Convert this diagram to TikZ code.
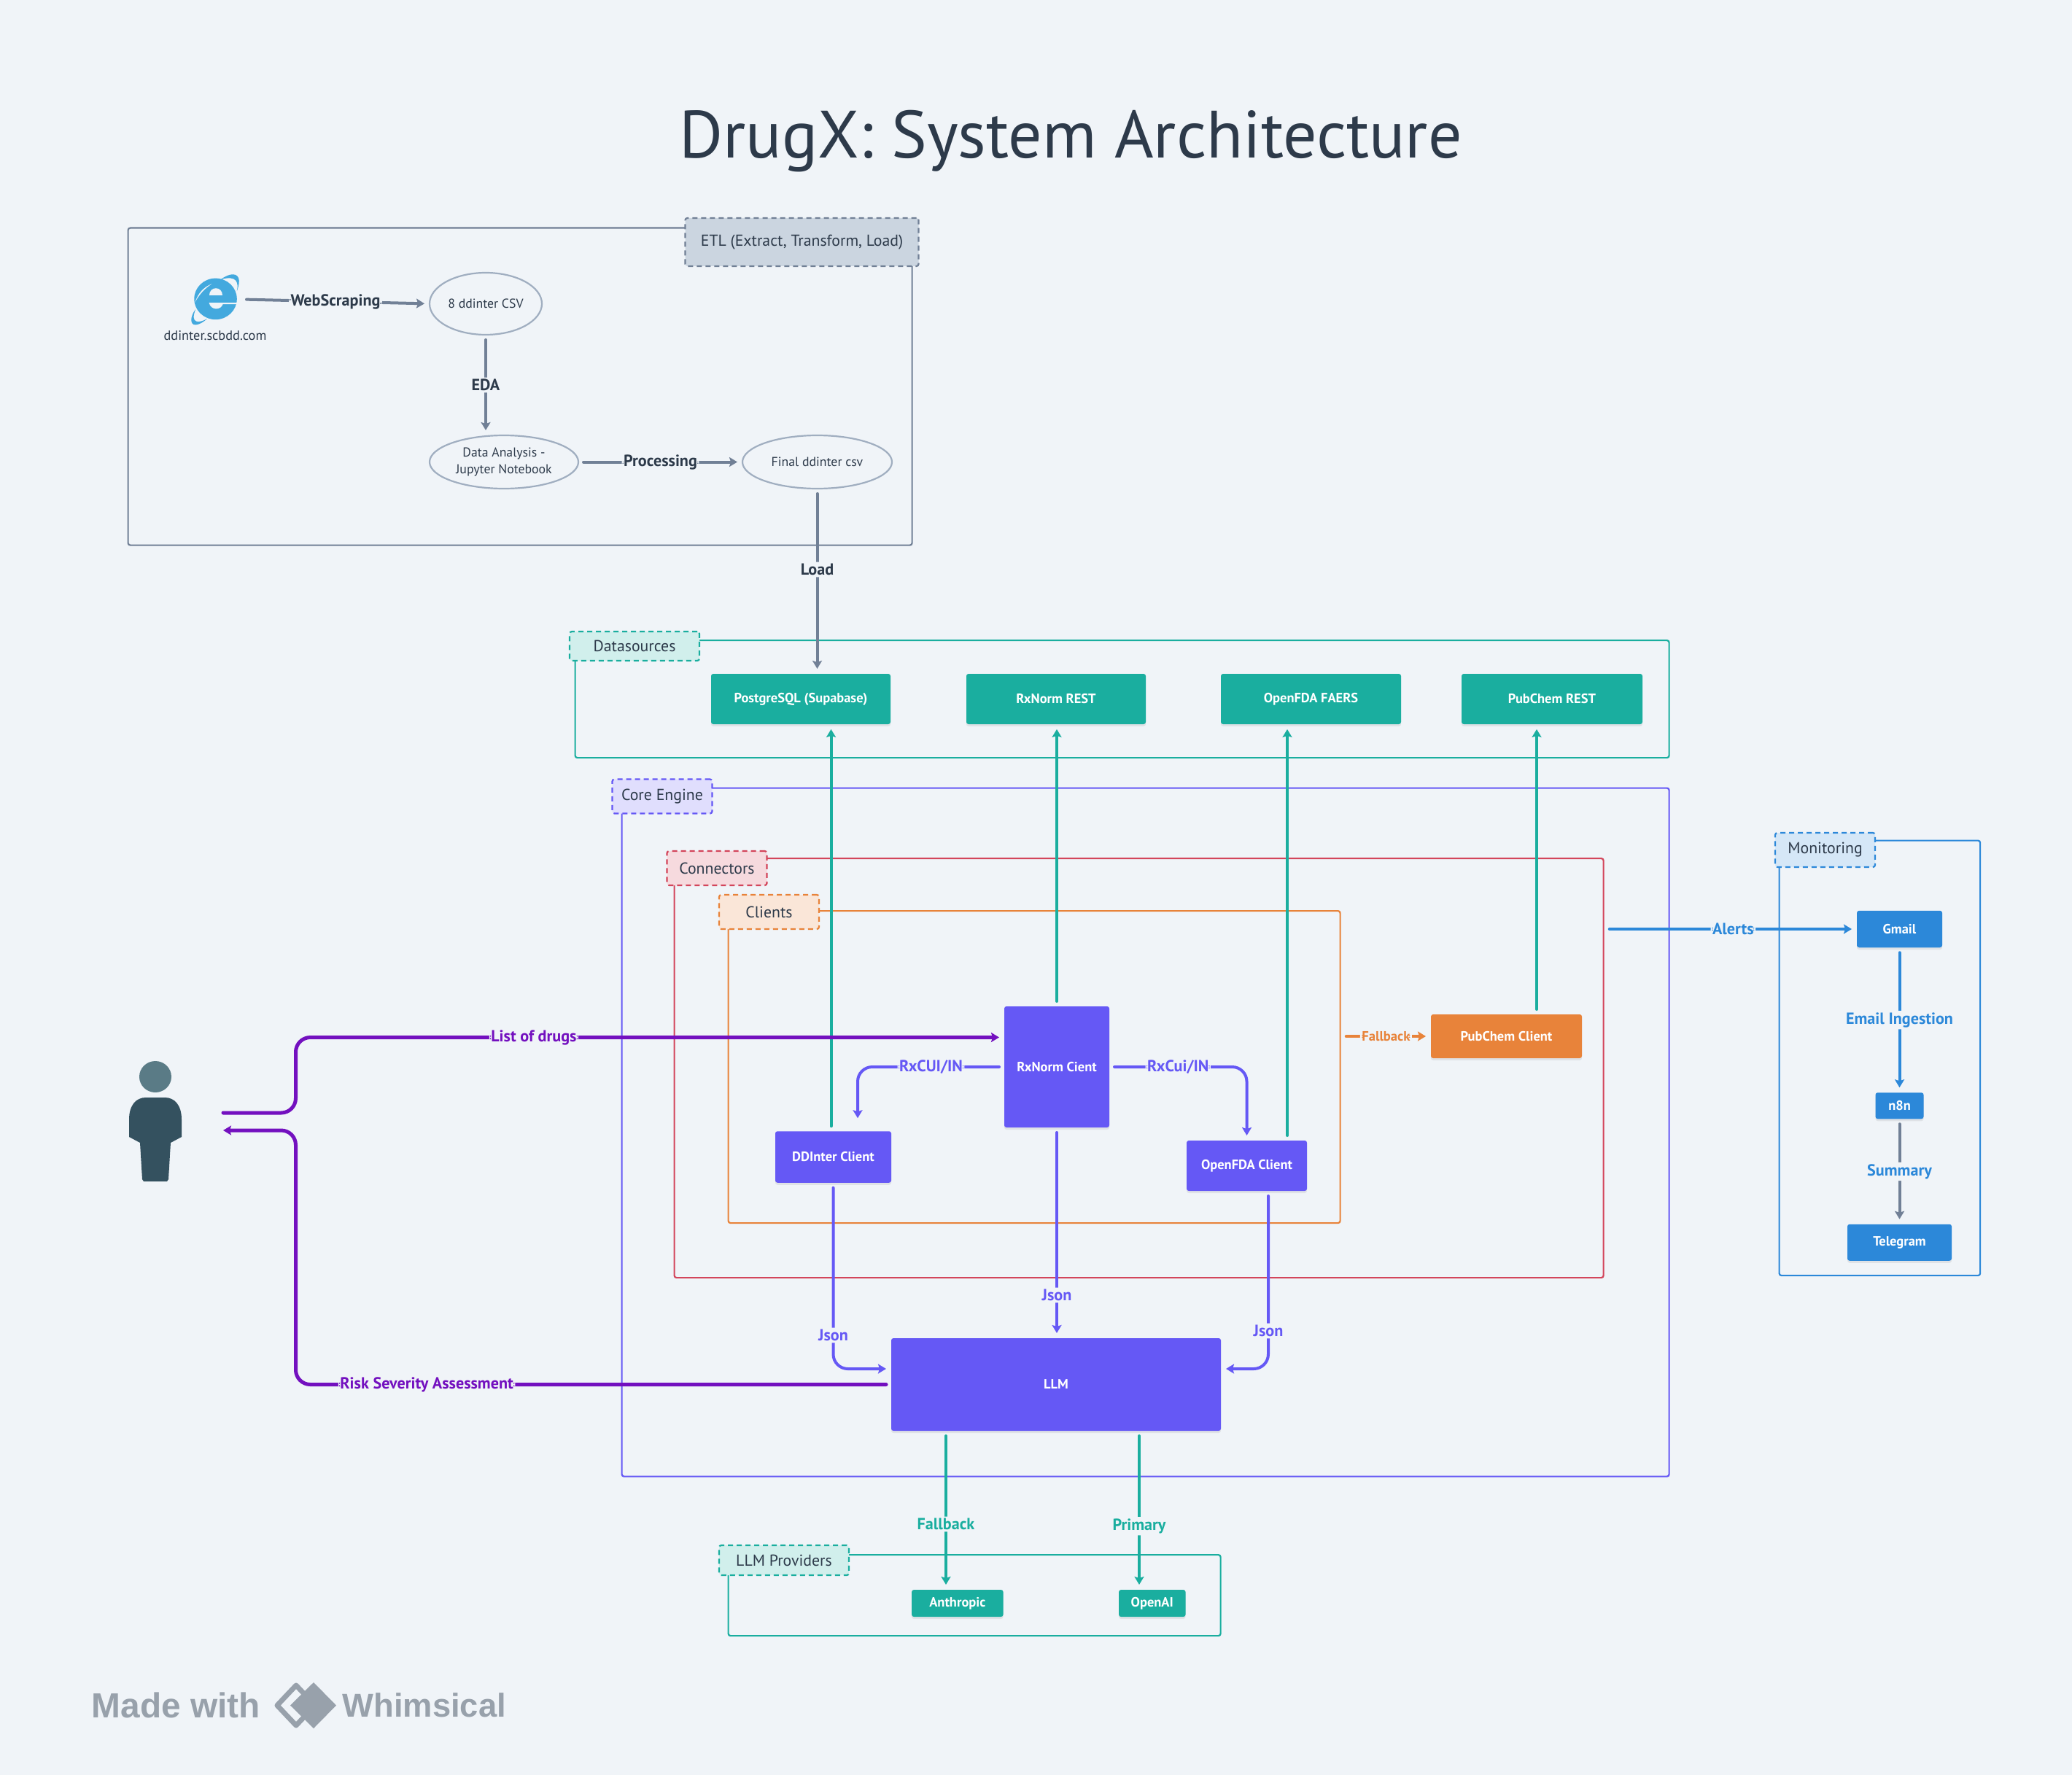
\documentclass[tikz,border=0pt]{standalone}
\usepackage{fontspec}
\usepackage{tikz}
\usetikzlibrary{shapes.geometric, arrows.meta, positioning, shadows}
\setmainfont{PT Sans}
\newfontfamily\brandfont{Liberation Sans}
\definecolor{pagebg}{RGB}{240, 244, 248}
\definecolor{inkdark}{RGB}{45, 58, 74}
\definecolor{etlslate}{RGB}{113, 128, 150}
\definecolor{etlfill}{RGB}{203, 213, 224}
\definecolor{ovalgray}{RGB}{160, 174, 192}
\definecolor{flowteal}{RGB}{26, 174, 159}
\definecolor{tealfill}{RGB}{209, 239, 236}
\definecolor{corepurple}{RGB}{101, 88, 245}
\definecolor{corefill}{RGB}{224, 222, 253}
\definecolor{connred}{RGB}{211, 69, 91}
\definecolor{redfill}{RGB}{246, 218, 222}
\definecolor{clientorange}{RGB}{232, 131, 58}
\definecolor{orangefill}{RGB}{250, 230, 216}
\definecolor{monblue}{RGB}{44, 136, 217}
\definecolor{bluefill}{RGB}{213, 231, 247}
\definecolor{userviolet}{RGB}{115, 16, 191}
\definecolor{brandgray}{RGB}{152, 161, 171}
\definecolor{ieblue}{RGB}{67, 169, 222}
\definecolor{headtone}{RGB}{90, 123, 134}
\definecolor{bodytone}{RGB}{52, 81, 95}
\tikzset{
  >=Stealth,
  basearrow/.style={-{Stealth[length=1.1mm, width=1.3mm, inset=0.2mm]}, line width=0.04cm, line cap=round, rounded corners=0.2cm, shorten <=0.07cm, shorten >=0.07cm},
  flowarrow_slate/.style={basearrow, etlslate},
  flowarrow_teal/.style={basearrow, flowteal},
  flowarrow_core/.style={basearrow, corepurple},
  flowarrow_orange/.style={basearrow, clientorange},
  flowarrow_blue/.style={basearrow, monblue},
  flowarrow_user/.style={basearrow, userviolet, line width=0.05cm},
  linelabel/.style={fill=pagebg, inner sep=0.7pt, font=\fontsize{6.3}{7}\selectfont\bfseries},
  groupbox/.style={draw=#1, line width=0.022cm, rounded corners=0.03cm, anchor=north west, inner sep=0pt},
  grouptag/.style n args={2}{draw=#1, fill=#2, line width=0.022cm, dashed, dash pattern=on 0.07cm off 0.05cm, rounded corners=0.03cm, text=inkdark, inner sep=0pt, outer sep=0pt, font=\fontsize{6.2}{7}\selectfont},
  filebox/.style={draw=none, fill=#1, rounded corners=0.03cm, text=white, inner sep=0pt, outer sep=0pt, font=\fontsize{5.25}{6}\selectfont\bfseries, drop shadow={shadow xshift=0cm, shadow yshift=-0.03cm, fill=black, opacity=0.07}},
  ovalnode/.style={ellipse, draw=ovalgray, line width=0.022cm, inner sep=0pt, outer sep=0pt, text=inkdark, align=center, font=\fontsize{5.05}{6.6}\selectfont}
}
\begin{document}
\begin{tikzpicture}
    \fill[pagebg] (0,0) rectangle (28.41,-24.34);
    \useasboundingbox (0,0) rectangle (28.41,-24.34);
    \node (drawingtitle) [text=inkdark, font=\fontsize{26.1}{30}\selectfont] at (14.68,-1.94) {DrugX: System Architecture};

    % group frames
    \node (etlbox) [groupbox=etlslate, minimum width=10.75cm, minimum height=4.35cm] at (1.745,-3.115) {};
    \node (sourcebox) [groupbox=flowteal, minimum width=15.00cm, minimum height=1.61cm] at (7.875,-8.77) {};
    \node (corebox) [groupbox=corepurple, minimum width=14.36cm, minimum height=9.44cm] at (8.515,-10.795) {};
    \node (connectbox) [groupbox=connred, minimum width=12.74cm, minimum height=5.75cm] at (9.235,-11.76) {};
    \node (clientbox) [groupbox=clientorange, minimum width=8.39cm, minimum height=4.28cm] at (9.975,-12.48) {};
    \node (providerbox) [groupbox=flowteal, minimum width=6.75cm, minimum height=1.11cm] at (9.975,-21.31) {};
    \node (monitorbox) [groupbox=monblue, minimum width=2.755cm, minimum height=5.965cm] at (24.385,-11.515) {};
    \node (etltag) [grouptag={etlslate}{etlfill}, minimum width=3.20cm, minimum height=0.66cm] at (10.995,-3.32) {ETL (Extract, Transform, Load)};
    \node (sourcetag) [grouptag={flowteal}{tealfill}, minimum width=1.78cm, minimum height=0.40cm] at (8.70,-8.86) {Datasources};
    \node (coretag) [grouptag={corepurple}{corefill}, minimum width=1.37cm, minimum height=0.47cm] at (9.08,-10.92) {Core Engine};
    \node (connecttag) [grouptag={connred}{redfill}, minimum width=1.37cm, minimum height=0.47cm] at (9.83,-11.905) {Connectors};
    \node (clienttag) [grouptag={clientorange}{orangefill}, minimum width=1.37cm, minimum height=0.47cm] at (10.545,-12.505) {Clients};
    \node (providertag) [grouptag={flowteal}{tealfill}, minimum width=1.78cm, minimum height=0.41cm] at (10.75,-21.395) {LLM Providers};
    \node (monitortag) [grouptag={monblue}{bluefill}, minimum width=1.37cm, minimum height=0.47cm] at (25.025,-11.655) {Monitoring};

    % ETL nodes
    \node (iesite) [minimum width=0.69cm, minimum height=0.70cm, inner sep=0pt, outer sep=0pt] at (2.965,-4.105) {};
    \begin{scope}[shift={(2.40,-3.60)}, x=0.0033333cm, y=-0.0033333cm]
        \fill[ieblue] (167,150) ellipse [x radius=88, y radius=85];
        \fill[pagebg] (140,135) .. controls (140,95) and (195,95) .. (195,135) -- cycle;
        \fill[pagebg] (140,166) .. controls (148,198) and (188,198) .. (197,172) -- (262,172) -- (262,166) -- cycle;
        \fill[pagebg] (152,88) .. controls (120,100) and (95,125) .. (82,165) .. controls (100,130) and (125,105) .. (152,88) -- cycle;
        \fill[ieblue] (188,70) .. controls (225,42) and (262,40) .. (264,75) .. controls (264,90) and (260,105) .. (255,118) .. controls (262,85) and (258,50) .. (188,70) -- cycle;
        \fill[ieblue] (85,192) .. controls (60,225) and (62,258) .. (85,257) .. controls (100,256) and (118,245) .. (132,232) .. controls (100,250) and (60,255) .. (85,192) -- cycle;
    \end{scope}
    \node (iename) [text=inkdark, font=\fontsize{5.2}{6}\selectfont] at (2.95,-4.60) {ddinter.scbdd.com};
    \node (rawcsv) [ovalnode, minimum width=1.54cm, minimum height=0.85cm] at (6.66,-4.165) {8 ddinter CSV};
    \node (edanode) [ovalnode, minimum width=2.04cm, minimum height=0.73cm] at (6.91,-6.335) {Data Analysis -\\Jupyter Notebook};
    \node (finalcsv) [ovalnode, minimum width=2.05cm, minimum height=0.73cm, right=2.25cm of edanode] {Final ddinter csv};

    % datasource nodes
    \node (pgrest) [filebox=flowteal, minimum width=2.46cm, minimum height=0.69cm] at (10.98,-9.585) {PostgreSQL (Supabase)};
    \node (rxrest) [filebox=flowteal, minimum width=2.46cm, minimum height=0.69cm, right=1.04cm of pgrest] {RxNorm REST};
    \node (faersrest) [filebox=flowteal, minimum width=2.47cm, minimum height=0.69cm, right=1.03cm of rxrest] {OpenFDA FAERS};
    \node (pubchemrest) [filebox=flowteal, minimum width=2.48cm, minimum height=0.69cm, right=0.83cm of faersrest] {PubChem REST};

    % client nodes
    \node (rxclient) [filebox=corepurple, minimum width=1.44cm, minimum height=1.66cm] at (14.49,-14.63) {RxNorm Cient};
    \node (ddinterclient) [filebox=corepurple, minimum width=1.59cm, minimum height=0.705cm] at (11.425,-15.865) {DDInter Client};
    \node (fdaclient) [filebox=corepurple, minimum width=1.65cm, minimum height=0.69cm] at (17.095,-15.985) {OpenFDA Client};
    \node (pubchemclient) [filebox=clientorange, minimum width=2.07cm, minimum height=0.60cm] at (20.655,-14.21) {PubChem Client};
    \node (llm) [filebox=corepurple, minimum width=4.52cm, minimum height=1.27cm] at (14.48,-18.985) {LLM};

    % provider nodes
    \node (anthropic) [filebox=flowteal, minimum width=1.255cm, minimum height=0.37cm] at (13.128,-21.985) {Anthropic};
    \node (openai) [filebox=flowteal, minimum width=0.915cm, minimum height=0.37cm, right=1.585cm of anthropic] {OpenAI};

    % monitoring nodes
    \node (gmail) [filebox=monblue, minimum width=1.17cm, minimum height=0.505cm] at (26.045,-12.74) {Gmail};
    \node (ntoon) [filebox=monblue, minimum width=0.66cm, minimum height=0.36cm, below=1.99cm of gmail] {n8n};
    \node (telegram) [filebox=monblue, minimum width=1.43cm, minimum height=0.50cm, below=1.445cm of ntoon] {Telegram};

    % the person
    \node (person) [minimum width=0.72cm, minimum height=1.65cm, inner sep=0pt] at (2.13,-15.375) {};
    \fill[headtone] (2.13,-14.765) ellipse [x radius=0.22cm, y radius=0.215cm];
    \fill[bodytone] (1.77,-15.35) .. controls (1.77,-15.15) and (1.87,-15.05) .. (2.00,-15.05) -- (2.26,-15.05) .. controls (2.39,-15.05) and (2.49,-15.15) .. (2.49,-15.35) -- (2.49,-15.59) -- (2.34,-15.67) -- (2.31,-16.17) -- (2.29,-16.20) -- (1.97,-16.20) -- (1.95,-16.17) -- (1.92,-15.67) -- (1.77,-15.59) -- cycle;
    \coordinate (userout) at (2.99,-15.26);
    \coordinate (userin) at (2.99,-15.50);
    \coordinate (busleft) at (4.055,-15.26);

    % brand mark
    \node (madewith) [anchor=west, inner sep=0pt, text=brandgray, font=\brandfont\fontsize{13.6}{15}\selectfont\bfseries] at (1.25,-23.38) {Made with};
    \draw[brandgray, line width=0.07cm, line join=round] (3.80,-23.385) -- (4.06,-23.11) -- (4.32,-23.385) -- (4.06,-23.66) -- cycle;
    \fill[brandgray] (3.98,-23.385) -- (4.30,-23.07) -- (4.61,-23.385) -- (4.30,-23.70) -- cycle;
    \node (whimsical) [anchor=west, inner sep=0pt, text=brandgray, font=\brandfont\fontsize{12.9}{15}\selectfont\bfseries] at (4.69,-23.38) {Whimsical};

    % ETL flow
    \draw[flowarrow_slate] (iesite.east) -- (rawcsv.west) node[linelabel, text=inkdark, midway] {WebScraping};
    \draw[flowarrow_slate] (rawcsv.south) -- (rawcsv.south |- edanode.north) node[linelabel, text=inkdark, midway] {EDA};
    \draw[flowarrow_slate] (edanode.east) -- (finalcsv.west) node[linelabel, text=inkdark, midway] {Processing};
    \draw[flowarrow_slate] (finalcsv.south) -- (finalcsv.south |- pgrest.north) node[linelabel, text=inkdark, pos=0.437] {Load};

    % clients up to the sources
    \draw[flowarrow_teal] ([xshift=-0.03cm]ddinterclient.north) -- ([xshift=-0.03cm]ddinterclient.north |- pgrest.south);
    \draw[flowarrow_teal] (rxclient.north) -- (rxclient.north |- rxrest.south);
    \draw[flowarrow_teal] ([xshift=0.555cm]fdaclient.north) -- ([xshift=0.555cm]fdaclient.north |- faersrest.south);
    \draw[flowarrow_teal] ([xshift=0.415cm]pubchemclient.north) -- ([xshift=0.415cm]pubchemclient.north |- pubchemrest.south);

    % core flow
    \coordinate (ddintertop) at ([xshift=0.335cm, yshift=0.11cm]ddinterclient.north);
    \coordinate (llminleft) at ([yshift=0.215cm]llm.west);
    \coordinate (llminright) at ([yshift=0.215cm]llm.east);
    \coordinate (fdabottom) at ([xshift=0.295cm]fdaclient.south);
    \draw[flowarrow_core] (rxclient.west) -- node[linelabel, text=corepurple] {RxCUI/IN} (ddintertop |- rxclient.west) -- (ddintertop);
    \draw[flowarrow_core] (rxclient.east) -- node[linelabel, text=corepurple] {RxCui/IN} (fdaclient.north |- rxclient.east) -- (fdaclient.north);
    \draw[flowarrow_core] (rxclient.south) -- (rxclient.south |- llm.north) node[linelabel, text=corepurple, pos=0.796] {Json};
    \draw[flowarrow_core] (ddinterclient.south) -- node[linelabel, text=corepurple, pos=0.82] {Json} (ddinterclient.south |- llminleft) -- (llminleft);
    \draw[flowarrow_core] (fdabottom) -- node[linelabel, text=corepurple, pos=0.787] {Json} (fdabottom |- llminright) -- (llminright);
    \draw[flowarrow_orange] (clientbox.east |- pubchemclient.west) -- (pubchemclient.west) node[linelabel, text=clientorange, midway, font=\fontsize{5.3}{6}\selectfont\bfseries] {Fallback};

    % llm to providers
    \draw[flowarrow_teal] ([xshift=-1.51cm]llm.south) -- ([xshift=-1.51cm]llm.south |- anthropic.north) node[linelabel, text=flowteal, pos=0.587] {Fallback};
    \draw[flowarrow_teal] ([xshift=1.14cm]llm.south) -- ([xshift=1.14cm]llm.south |- openai.north) node[linelabel, text=flowteal, pos=0.6] {Primary};

    % monitoring flow
    \draw[flowarrow_blue] (connectbox.east |- gmail.west) -- (gmail.west) node[linelabel, text=monblue, pos=0.51] {Alerts};
    \draw[flowarrow_blue] (gmail.south) -- (ntoon.north) node[linelabel, text=monblue, midway] {Email Ingestion};
    \draw[flowarrow_slate] (ntoon.south) -- (telegram.north) node[linelabel, text=monblue, midway] {Summary};

    % user flow
    \coordinate (rxentry) at ([yshift=0.405cm]rxclient.west);
    \draw[flowarrow_user] (userout) -| (busleft |- rxentry) -- node[linelabel, text=userviolet, pos=0.336] {List of drugs} (rxentry);
    \draw[flowarrow_user] (llm.west) -- node[linelabel, text=userviolet, pos=0.78] {Risk Severity Assessment} (busleft |- llm.west) |- (userin);
\end{tikzpicture}
\end{document}
